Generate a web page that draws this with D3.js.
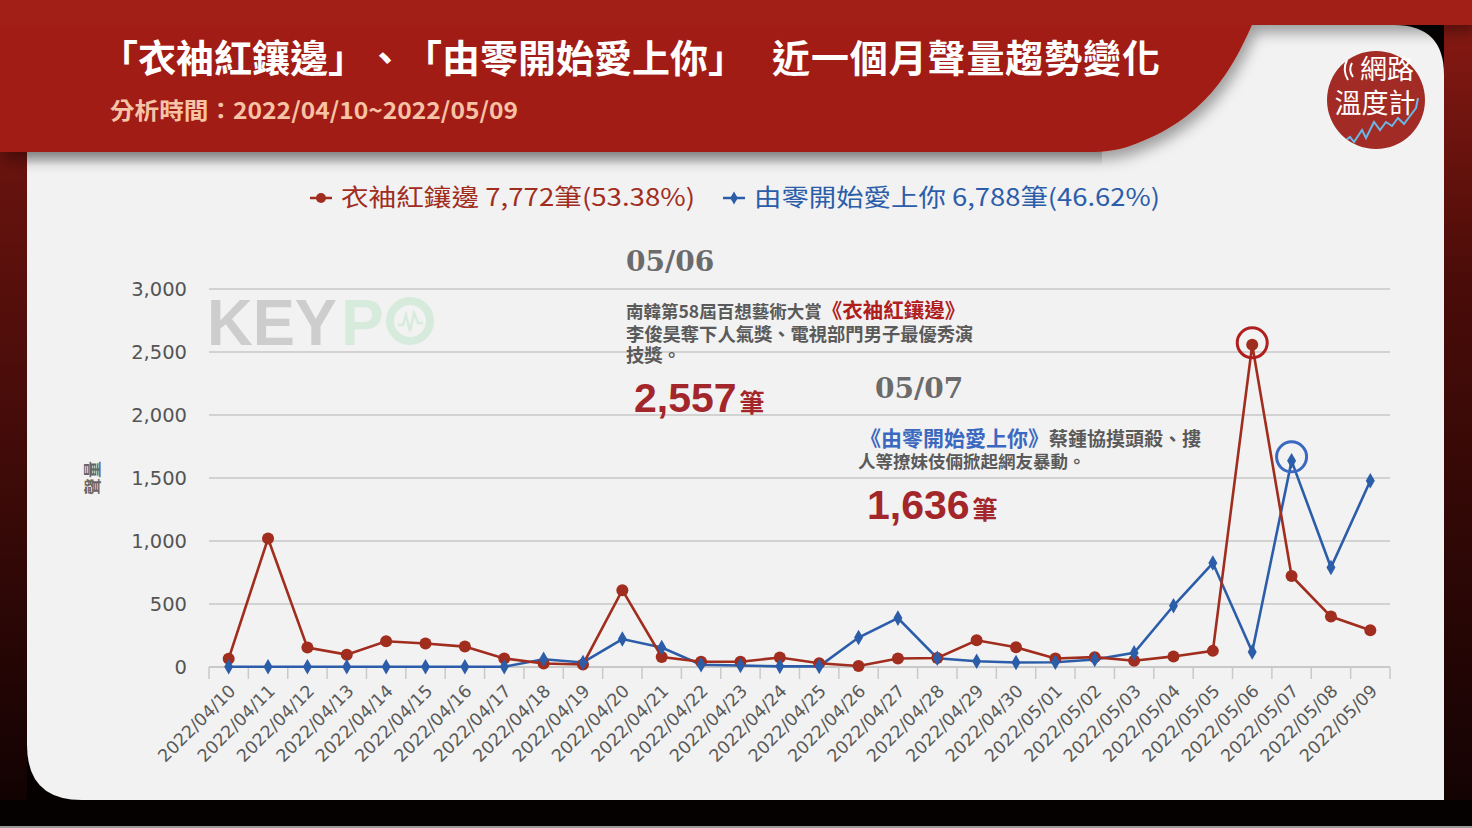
<!DOCTYPE html>
<html><head><meta charset="utf-8">
<script src="https://cdn.jsdelivr.net/npm/d3@7"></script>
<style>html,body{margin:0;padding:0;background:#000;}svg{display:block;}</style>
</head><body>
<svg id="c" width="1472" height="828"></svg>
<script>
const dates = ["2022/04/10","2022/04/11","2022/04/12","2022/04/13","2022/04/14","2022/04/15","2022/04/16","2022/04/17","2022/04/18","2022/04/19","2022/04/20","2022/04/21","2022/04/22","2022/04/23","2022/04/24","2022/04/25","2022/04/26","2022/04/27","2022/04/28","2022/04/29","2022/04/30","2022/05/01","2022/05/02","2022/05/03","2022/05/04","2022/05/05","2022/05/06","2022/05/07","2022/05/08","2022/05/09"];
const redValues = [66,1020,154,98,204,186,162,68,28,20,610,80,42,42,75,30,8,68,72,212,156,68,78,50,84,128,2557,722,400,292];
const blueValues = [2,2,2,2,2,2,2,2,62,36,222,155,18,12,5,5,234,388,70,46,36,38,60,112,486,825,120,1636,790,1478];
const yTicks = [0,500,1000,1500,2000,2500,3000];
const seriesNames = ["衣袖紅鑲邊","由零開始愛上你"];
const seriesTotals = ["7,772筆(53.38%)","6,788筆(46.62%)"];
const titleParts = ["「衣袖紅鑲邊」","、","「由零開始愛上你」","近一個月聲量趨勢變化"];
const subtitleText = "分析時間：2022/04/10~2022/05/09";

const RED = "#a02d1e", BLUE = "#2c5da9";
const svg = d3.select("#c");
const defs = svg.append("defs");
const CJK = "'Noto Sans CJK TC','Noto Sans CJK SC',sans-serif";

// gradients
const lg = defs.append("linearGradient").attr("id","leftG").attr("x1",0).attr("y1",0).attr("x2",0).attr("y2",1);
lg.append("stop").attr("offset","0%").attr("stop-color","#7e1711");
lg.append("stop").attr("offset","100%").attr("stop-color","#120202");
const rg = defs.append("linearGradient").attr("id","rightG").attr("x1",0).attr("y1",0).attr("x2",0).attr("y2",1);
rg.append("stop").attr("offset","0%").attr("stop-color","#8c1a13");
rg.append("stop").attr("offset","35%").attr("stop-color","#4a0c08");
rg.append("stop").attr("offset","100%").attr("stop-color","#140303");
const sg = defs.append("linearGradient").attr("id","shadG").attr("x1",0).attr("y1",0).attr("x2",0).attr("y2",1);
sg.append("stop").attr("offset","0%").attr("stop-color","#bdbdbd");
sg.append("stop").attr("offset","100%").attr("stop-color","#f2f2f2");
const f = defs.append("filter").attr("id","curlShadow").attr("x","-20%").attr("y","-20%").attr("width","140%").attr("height","160%");
f.append("feDropShadow").attr("dx",4).attr("dy",8).attr("stdDeviation",7).attr("flood-color","#000").attr("flood-opacity",0.35);

// background
svg.append("rect").attr("width",1472).attr("height",828).attr("fill","#050101");
svg.append("rect").attr("x",0).attr("y",0).attr("width",27).attr("height",800).attr("fill","url(#leftG)");
svg.append("rect").attr("x",1444).attr("y",0).attr("width",28).attr("height",800).attr("fill","url(#rightG)");
svg.append("rect").attr("x",0).attr("y",826).attr("width",1472).attr("height",2).attr("fill","#9a9a9a");

// card
svg.append("path").attr("fill","#f2f2f2")
  .attr("d","M27,25 L1394,25 Q1444,25 1444,75 L1444,800 L82,800 Q27,800 27,745 Z");
svg.append("rect").attr("x",27).attr("y",150).attr("width",1075).attr("height",16).attr("fill","url(#shadG)");

// red header band with curl
svg.append("path").attr("fill","#a21f17").attr("filter","url(#curlShadow)")
  .attr("d","M0,0 L1472,0 L1472,25 L1252,25 C1232,70 1205,120 1130,146 C1118,150 1105,152 1090,152 L0,152 Z");
svg.append("rect").attr("x",0).attr("y",0).attr("width",1472).attr("height",25).attr("fill","#a21f17");

// title
const titleX = [100, 366, 404, 772];
const tg = svg.append("g").attr("fill","#fff").attr("font-family",CJK).attr("font-weight",700).attr("font-size",38);
titleParts.forEach((t,i)=>{
  const el = tg.append("text").attr("x",titleX[i]).attr("y",72).text(t);
  if(i===3) el.attr("textLength",388).attr("lengthAdjust","spacing");
});
svg.append("text").attr("x",110).attr("y",119).attr("fill","#f6c3a6").attr("font-family",CJK)
  .attr("font-weight",700).attr("font-size",23).attr("textLength",408).attr("lengthAdjust","spacingAndGlyphs").text(subtitleText);

// logo
const lgG = svg.append("g");
defs.append("clipPath").attr("id","logoClip").append("circle").attr("cx",1376).attr("cy",100).attr("r",49);
lgG.append("circle").attr("cx",1376).attr("cy",100).attr("r",49).attr("fill","#a32b25");
lgG.append("text").attr("x",1387).attr("y",79).attr("text-anchor","middle").attr("fill","#fff").attr("font-family",CJK).attr("font-size",27).text("網路");
lgG.append("text").attr("x",1375).attr("y",113).attr("text-anchor","middle").attr("fill","#fff").attr("font-family",CJK).attr("font-size",27).text("溫度計");
lgG.append("path").attr("d","M1347,60 Q1342,70 1348,80 M1352,63 Q1348,70 1353,77").attr("fill","none").attr("stroke","#fff").attr("stroke-width",2);
lgG.append("polyline").attr("clip-path","url(#logoClip)").attr("fill","none").attr("stroke","#6ab8e8").attr("stroke-width",2)
  .attr("points","1340,145 1350,137 1354,142 1362,130 1366,138 1374,122 1380,130 1386,122 1392,126 1398,118 1404,124 1410,116 1416,108 1418,98");

// watermark KEYPO
const wm = svg.append("g");
wm.append("text").attr("x",207).attr("y",345).attr("font-family","'Liberation Sans',Arial,sans-serif").attr("font-weight",700)
  .attr("font-size",64).attr("fill","#cdcdcd").attr("textLength",130).attr("lengthAdjust","spacingAndGlyphs").text("KEY");
wm.append("text").attr("x",341).attr("y",345).attr("font-family","'Liberation Sans',Arial,sans-serif").attr("font-weight",700)
  .attr("font-size",64).attr("fill","#d6ebdb").text("P");
wm.append("circle").attr("cx",410).attr("cy",321).attr("r",20).attr("fill","none").attr("stroke","#d6ebdb").attr("stroke-width",8);
wm.append("polyline").attr("fill","none").attr("stroke","#d6ebdb").attr("stroke-width",2.5)
  .attr("points","398,325 403,325 406,315 410,331 414,313 418,323 423,323");

// scales
const x = d3.scaleBand().domain(dates).range([209,1390]).padding(0);
const y = d3.scaleLinear().domain([0,3000]).range([667,289]);
const cx = d => x(d) + x.bandwidth()/2;

// grid
svg.append("g").selectAll("line").data(yTicks.filter(t=>t>0)).join("line")
  .attr("x1",209).attr("x2",1390).attr("y1",d=>y(d)).attr("y2",d=>y(d)).attr("stroke","#d2d2d2").attr("stroke-width",2);

// y axis labels
const yAxis = d3.axisLeft(y).tickValues(yTicks).tickFormat(d3.format(",")).tickSize(0).tickPadding(22);
const yg = svg.append("g").attr("transform","translate(209,0)").call(yAxis);
yg.select(".domain").remove();
yg.selectAll("text").attr("font-family","'DejaVu Sans',Verdana,sans-serif").attr("font-size",19.5).attr("fill","#555");

svg.append("text").attr("transform","translate(99,478) rotate(-90)").attr("text-anchor","middle")
  .attr("font-family",CJK).attr("font-weight",700).attr("font-size",17).attr("fill","#666").text("聲量");

// x axis
const xg = svg.append("g");
xg.append("line").attr("x1",209).attr("x2",1390).attr("y1",y(0)).attr("y2",y(0)).attr("stroke","#c9c9c9").attr("stroke-width",2);
const bounds = dates.map(d=>x(d)).concat([x(dates[dates.length-1])+x.bandwidth()]);
xg.selectAll("line.tk").data(bounds).join("line").attr("class","tk")
  .attr("x1",d=>d).attr("x2",d=>d).attr("y1",y(0)).attr("y2",y(0)+12).attr("stroke","#c9c9c9").attr("stroke-width",1.5);
xg.selectAll("text").data(dates).join("text")
  .attr("transform",d=>`translate(${cx(d)+8},${y(0)+25}) rotate(-45)`)
  .attr("text-anchor","end").attr("font-family","'DejaVu Sans',Verdana,sans-serif").attr("font-size",17.5).attr("fill","#5a5a5a").text(d=>d);

// lines
const line = vals => d3.line().x((v,i)=>cx(dates[i])).y(v=>y(v))(vals);
svg.append("path").attr("d",line(blueValues)).attr("fill","none").attr("stroke",BLUE).attr("stroke-width",2.6);
svg.append("path").attr("d",line(redValues)).attr("fill","none").attr("stroke",RED).attr("stroke-width",2.6);
svg.append("g").selectAll("circle").data(redValues).join("circle")
  .attr("cx",(v,i)=>cx(dates[i])).attr("cy",v=>y(v)).attr("r",6).attr("fill",RED);
const diamond = d3.symbol().type(d3.symbolDiamond).size(70);
svg.append("g").selectAll("path").data(blueValues).join("path")
  .attr("transform",(v,i)=>`translate(${cx(dates[i])},${y(v)})`).attr("d",diamond).attr("fill",BLUE);

// highlight circles
const rMaxI = redValues.indexOf(d3.max(redValues));
const bMaxI = blueValues.indexOf(d3.max(blueValues));
svg.append("circle").attr("cx",cx(dates[rMaxI])).attr("cy",y(redValues[rMaxI])-2).attr("r",15).attr("fill","none").attr("stroke","#b01e1e").attr("stroke-width",3);
svg.append("circle").attr("cx",cx(dates[bMaxI])).attr("cy",y(blueValues[bMaxI])-4).attr("r",15).attr("fill","none").attr("stroke","#3b68c0").attr("stroke-width",3);

// legend
const leg = svg.append("g").attr("font-family",CJK).attr("font-size",24);
function legItem(x0, color, marker, name, total, len){
  const g = leg.append("g");
  g.append("line").attr("x1",x0).attr("x2",x0+22).attr("y1",198).attr("y2",198).attr("stroke",color).attr("stroke-width",2.5);
  if(marker==="c") g.append("circle").attr("cx",x0+11).attr("cy",198).attr("r",5).attr("fill",color);
  else g.append("path").attr("transform",`translate(${x0+11},198)`).attr("d",d3.symbol().type(d3.symbolDiamond).size(50)).attr("fill",color);
  g.append("text").attr("x",x0+31).attr("y",206).attr("fill",color).attr("textLength",len).attr("lengthAdjust","spacingAndGlyphs").text(name+" "+total);
}
legItem(310, RED, "c", seriesNames[0], seriesTotals[0], 354);
legItem(723, BLUE, "d", seriesNames[1], seriesTotals[1], 406);

// annotations
const serif = "'DejaVu Serif',serif";
svg.append("text").attr("x",626).attr("y",271).attr("font-family",serif).attr("font-weight",700).attr("font-size",28).attr("fill","#6b6b6b").text("05/06");
const a1 = svg.append("text").attr("x",626).attr("y",318).attr("font-family",CJK).attr("font-weight",700);
a1.append("tspan").attr("font-size",17.5).attr("fill","#5a5a5a").text("南韓第58屆百想藝術大賞");
a1.append("tspan").attr("font-size",20.5).attr("fill","#b01e1e").text("《衣袖紅鑲邊》");
svg.append("text").attr("x",626).attr("y",341).attr("font-family",CJK).attr("font-weight",700).attr("font-size",18.3).attr("fill","#5a5a5a").text("李俊昊奪下人氣獎、電視部門男子最優秀演");
svg.append("text").attr("x",626).attr("y",362).attr("font-family",CJK).attr("font-weight",700).attr("font-size",18.3).attr("fill","#5a5a5a").text("技獎。");
const n1 = svg.append("text").attr("x",634).attr("y",412).attr("font-family","'Liberation Sans',Arial,sans-serif").attr("font-weight",700).attr("fill","#a3262a");
n1.append("tspan").attr("font-size",41).text(d3.format(",")(redValues[rMaxI]));
n1.append("tspan").attr("font-size",25).attr("font-family",CJK).attr("dx",3).text("筆");

svg.append("text").attr("x",875).attr("y",398).attr("font-family",serif).attr("font-weight",700).attr("font-size",28).attr("fill","#6b6b6b").text("05/07");
const a2 = svg.append("text").attr("x",860).attr("y",446).attr("font-family",CJK).attr("font-weight",700);
a2.append("tspan").attr("font-size",21).attr("fill","#3b68c0").text("《由零開始愛上你》");
a2.append("tspan").attr("font-size",19).attr("fill","#5a5a5a").text("蔡鍾協摸頭殺、摟");
svg.append("text").attr("x",858).attr("y",468).attr("font-family",CJK).attr("font-weight",700).attr("font-size",17.5).attr("fill","#5a5a5a").text("人等撩妹伎倆掀起網友暴動。");
const n2 = svg.append("text").attr("x",867).attr("y",519).attr("font-family","'Liberation Sans',Arial,sans-serif").attr("font-weight",700).attr("fill","#a3262a");
n2.append("tspan").attr("font-size",41).text(d3.format(",")(blueValues[bMaxI]));
n2.append("tspan").attr("font-size",25).attr("font-family",CJK).attr("dx",3).text("筆");
</script>
</body></html>
